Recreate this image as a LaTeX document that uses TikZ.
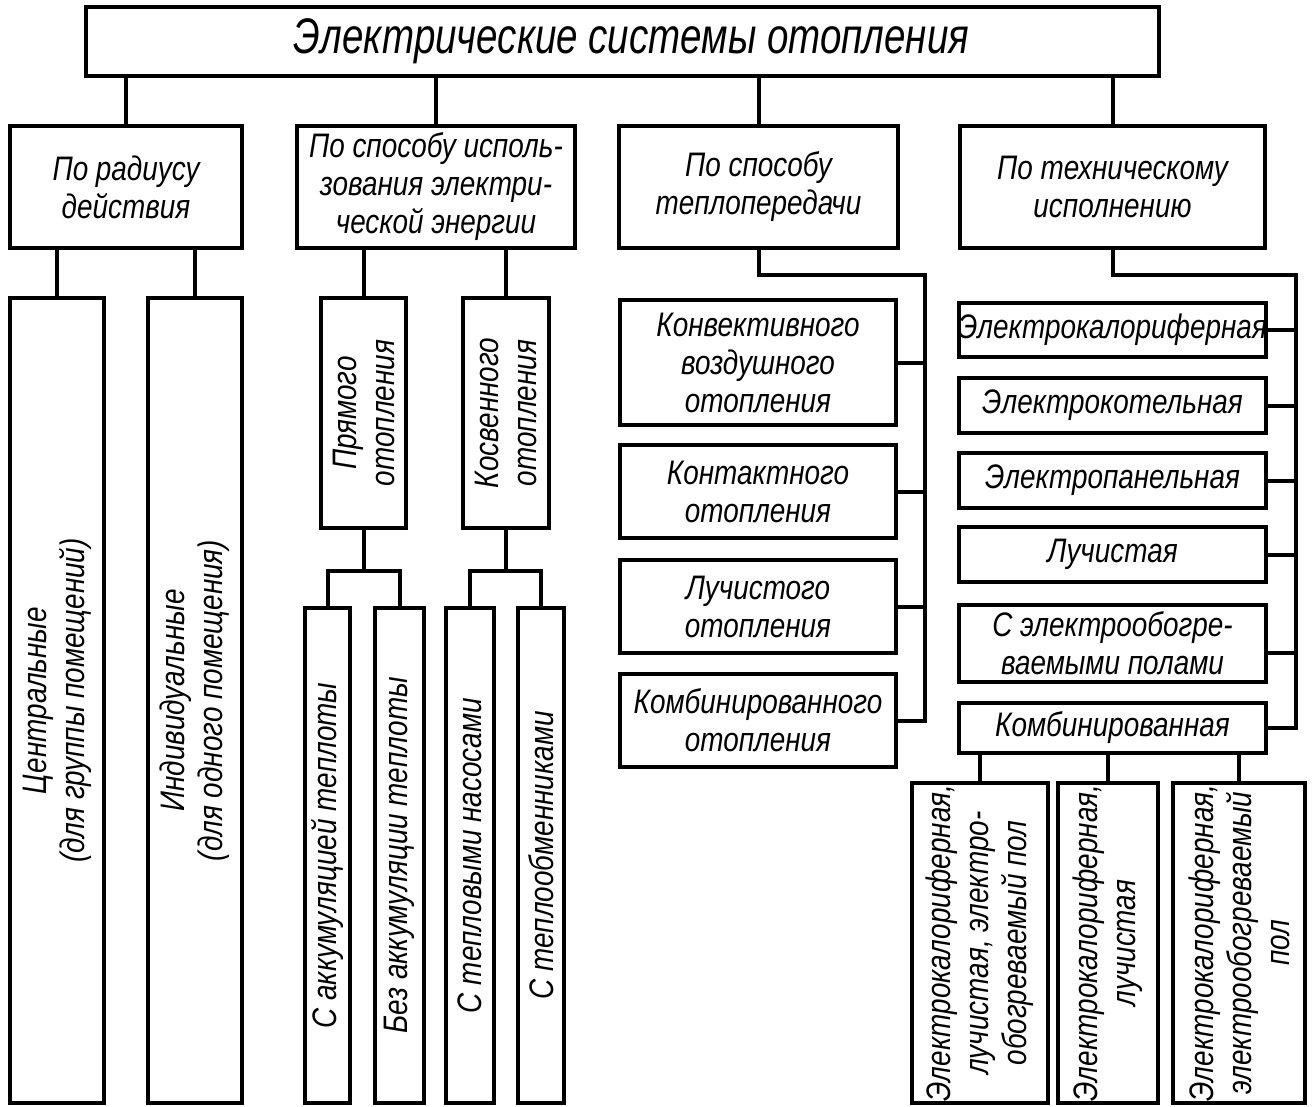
\documentclass[tikz,border=0pt]{standalone}
\usepackage{fontspec}
\newfontfamily\gostfont{Liberation Sans}[FakeStretch=0.82]
\newfontfamily\gosttitle{Liberation Sans}[FakeStretch=0.77]
\usetikzlibrary{fit,calc}
\tikzset{
  x=1pt, y=-1pt,
  txt/.style={font=\gostfont\itshape\fontsize{34}{38}\selectfont},
  cell/.style={draw, line width=4pt, inner sep=0pt},
  htext/.style={align=center, inner sep=0pt, txt},
  vtext/.style={rotate=90, align=center, inner sep=0pt, txt},
  link/.style={line width=4pt, line join=miter}
}
% box from corner (x1,y1) to corner (x2,y2) with horizontal text
\newcommand\cellbox[6]{\node[cell, fit={(#2,#3) (#4,#5)}] (#1) {};
  \node[htext] (#1-t) at (#1.center) {#6};}
% box with text turned to read upwards
\newcommand\vcellbox[6]{\node[cell, fit={(#2,#3) (#4,#5)}] (#1) {};
  \node[vtext] (#1-t) at (#1.center) {#6};}
\begin{document}
\begin{tikzpicture}
\useasboundingbox (0,0) rectangle (1314,1106);

% root
\node[cell, fit={(86,7) (1159,76)}] (root) {};
\node[htext, font=\gosttitle\itshape\fontsize{50}{56}\selectfont] (root-t) at ($(root.center)+(9,0)$) {Электрические системы отопления};

% first level
\cellbox{rad}{10}{126}{242}{248}{По радиусу\\действия}
\cellbox{use}{297}{126}{575}{248}{По способу исполь-\\зования электри-\\ческой энергии}
\cellbox{heat}{619}{126}{898}{248}{По способу\\теплопередачи}
\cellbox{tech}{960}{126}{1265}{248}{По техническому\\исполнению}

% by radius
\vcellbox{cen}{10}{298}{104}{1103}{Центральные\\(для группы помещений)}
\vcellbox{ind}{148}{298}{242}{1103}{Индивидуальные\\(для одного помещения)}

% by use of electric energy
\vcellbox{dir}{321}{298}{406}{528}{Прямого\\отопления}
\vcellbox{ind2}{463}{298}{549}{528}{Косвенного\\отопления}
\vcellbox{acc}{305}{608}{350}{1103}{С аккумуляцией теплоты}
\vcellbox{noacc}{375}{608}{424}{1103}{Без аккумуляции теплоты}
\vcellbox{pump}{446}{608}{494}{1103}{С тепловыми насосами}
\vcellbox{exch}{518}{608}{564}{1103}{С теплообменниками}

% by heat transfer
\cellbox{conv}{620}{300}{896}{425}{Конвективного\\воздушного\\отопления}
\cellbox{cont}{620}{445}{896}{538}{Контактного\\отопления}
\cellbox{rays}{620}{560}{896}{653}{Лучистого\\отопления}
\cellbox{comb}{620}{674}{896}{767}{Комбинированного\\отопления}

% by technical design
\cellbox{e1}{959}{303}{1266}{357}{Электрокалориферная}
\cellbox{e2}{959}{378}{1266}{433}{Электрокотельная}
\cellbox{e3}{959}{453}{1266}{508}{Электропанельная}
\cellbox{e4}{959}{527}{1266}{582}{Лучистая}
\cellbox{e5}{959}{605}{1266}{682}{С электрообогре-\\ваемыми полами}
\cellbox{e6}{959}{703}{1266}{753}{Комбинированная}
\vcellbox{m1}{912}{783}{1048}{1103}{Электрокалориферная,\\лучистая, электро-\\обогреваемый пол}
\vcellbox{m2}{1058}{783}{1158}{1103}{Электрокалориферная,\\лучистая}
\vcellbox{m3}{1173}{783}{1305}{1103}{Электрокалориферная,\\электрообогреваемый\\пол}

% connectors
\foreach \n in {rad,use,heat,tech}
  \draw[link] (\n.north) -- (\n.north |- root.south);
\foreach \n/\p in {cen/rad, ind/rad, dir/use, ind2/use}
  \draw[link] (\n.north) -- (\n.north |- \p.south);

\coordinate (dirj) at ($(dir.south)+(0,41)$);
\draw[link] (dir.south) -- (dirj);
\draw[link] (acc.north) |- (dirj) -| (noacc.north);
\coordinate (indj) at ($(ind2.south)+(0,41)$);
\draw[link] (ind2.south) -- (indj);
\draw[link] (pump.north) |- (indj) -| (exch.north);

\coordinate (hbus) at (925,275);
\draw[link] (heat.south) |- (hbus) |- (comb.east);
\foreach \n in {conv,cont,rays}
  \draw[link] (\n.east) -- (\n.east -| hbus);

\coordinate (tbus) at (1296,275);
\draw[link] (tech.south) |- (tbus) |- (e6.east);
\foreach \n in {e1,e2,e3,e4}
  \draw[link] (\n.east) -- (\n.east -| tbus);
\coordinate (e5t) at ($(e5.east)+(0,9)$);
\draw[link] (e5t) -- (e5t -| tbus);

\foreach \n in {m1,m2,m3}
  \draw[link] (\n.north) -- (\n.north |- e6.south);
\end{tikzpicture}
\end{document}
